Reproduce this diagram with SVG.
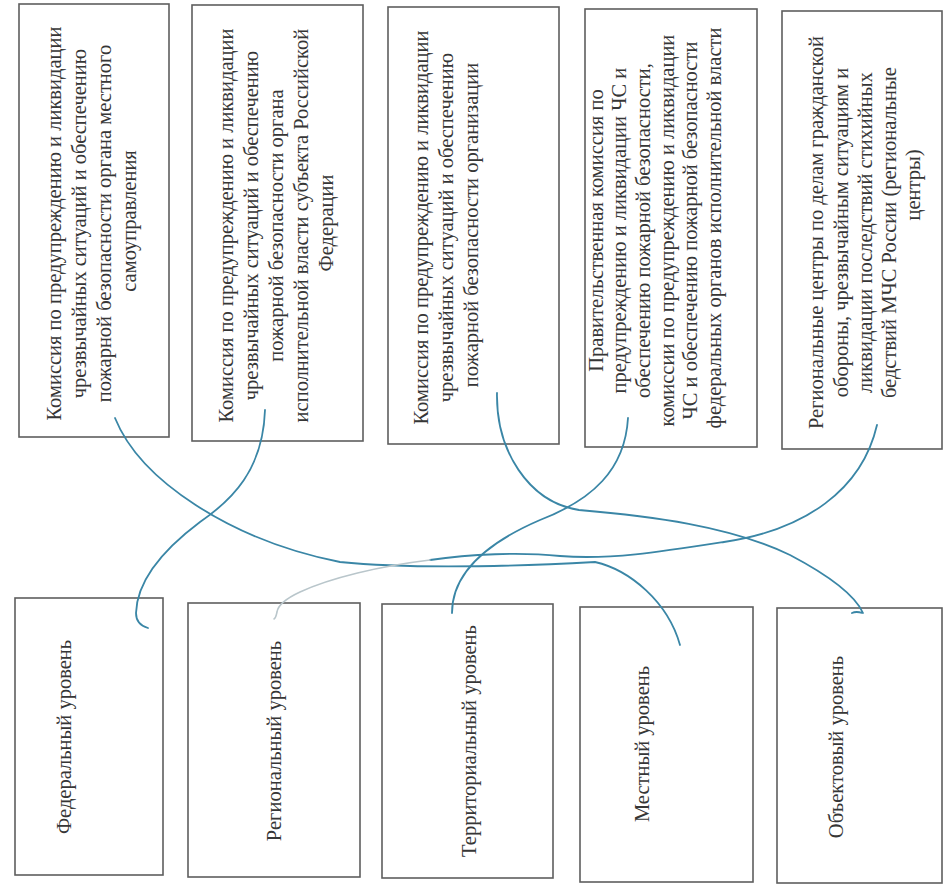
<svg xmlns="http://www.w3.org/2000/svg" width="946" height="886" viewBox="0 0 946 886">
<style>
.box{fill:#fff;stroke:#5e5e5e;stroke-width:1.6}
.t{font-family:"Liberation Serif","Times New Roman",serif;font-size:20.5px;fill:#363636}
.ink{fill:none;stroke:#3a86a6;stroke-width:1.8;stroke-linecap:round;stroke-linejoin:round}
.pale{fill:none;stroke:#b9c6cb;stroke-width:1.6;stroke-linecap:round}
</style>
<rect width="946" height="886" fill="#fff"/>
<g id="top1">
<rect class="box" x="19" y="4" width="150" height="433"/>
<text class="t" text-anchor="middle" transform="translate(0,221) rotate(-90)">
<tspan x="0" y="61">Комиссия по предупреждению и ликвидации</tspan>
<tspan x="0" y="86">чрезвычайных ситуаций и обеспечению</tspan>
<tspan x="0" y="111">пожарной безопасности органа местного</tspan>
<tspan x="0" y="136">самоуправления</tspan>
</text>
</g>
<g id="top2">
<rect class="box" x="192" y="5" width="171" height="436"/>
<text class="t" text-anchor="middle" transform="translate(0,223) rotate(-90)">
<tspan x="0" y="233">Комиссия по предупреждению и ликвидации</tspan>
<tspan x="0" y="258">чрезвычайных ситуаций и обеспечению</tspan>
<tspan x="0" y="283">пожарной безопасности органа</tspan>
<tspan x="0" y="308">исполнительной власти субъекта Российской</tspan>
<tspan x="0" y="333">Федерации</tspan>
</text>
</g>
<g id="top3">
<rect class="box" x="388" y="7" width="171" height="437"/>
<text class="t" text-anchor="middle" transform="translate(0,225) rotate(-90)">
<tspan x="0" y="428">Комиссия по предупреждению и ликвидации</tspan>
<tspan x="0" y="453">чрезвычайных ситуаций и обеспечению</tspan>
<tspan x="0" y="478">пожарной безопасности организации</tspan>
</text>
</g>
<g id="top4">
<rect class="box" x="585" y="9" width="172" height="438"/>
<text class="t" text-anchor="middle" transform="translate(0,228) rotate(-90)">
<tspan x="0" y="603">Правительственная комиссия по</tspan>
<tspan x="0" y="626">предупреждению и ликвидации ЧС и</tspan>
<tspan x="0" y="650">обеспечению пожарной безопасности,</tspan>
<tspan x="0" y="674">комиссии по предупреждению и ликвидации</tspan>
<tspan x="0" y="697">ЧС и обеспечению пожарной безопасности</tspan>
<tspan x="0" y="721">федеральных органов исполнительной власти</tspan>
</text>
</g>
<g id="top5">
<rect class="box" x="782" y="11" width="160" height="438"/>
<text class="t" text-anchor="middle" transform="translate(0,230) rotate(-90)">
<tspan x="0" y="823">Региональные центры по делам гражданской</tspan>
<tspan x="0" y="848">обороны, чрезвычайным ситуациям и</tspan>
<tspan x="0" y="872">ликвидации последствий стихийных</tspan>
<tspan x="0" y="896">бедствий МЧС России (региональные</tspan>
<tspan x="45" y="920">центры)</tspan>
</text>
</g>
<g id="level1">
<rect class="box" x="15" y="598" width="148" height="277"/>
<text class="t" text-anchor="middle" transform="translate(71,737) rotate(-90)">Федеральный уровень</text>
</g>
<g id="level2">
<rect class="box" x="188" y="603" width="172" height="274"/>
<text class="t" text-anchor="middle" transform="translate(281,741) rotate(-90)">Региональный уровень</text>
</g>
<g id="level3">
<rect class="box" x="382" y="604" width="171" height="274"/>
<text class="t" text-anchor="middle" transform="translate(476,741) rotate(-90)">Территориальный уровень</text>
</g>
<g id="level4">
<rect class="box" x="580" y="607" width="173" height="275"/>
<text class="t" text-anchor="middle" transform="translate(649,744) rotate(-90)">Местный уровень</text>
</g>
<g id="level5">
<rect class="box" x="777" y="608" width="165" height="275"/>
<text class="t" text-anchor="middle" transform="translate(843,747) rotate(-90)">Объектовый уровень</text>
</g>
<g id="connectors">
<path class="ink" stroke="#4a8aa3" d="M115,418 C140,480 230,540 340,562 C420,570 520,566 595,562 C630,570 668,602 680,645"/>
<path class="ink" d="M265,410 C263,470 232,500 200,522 C160,552 137,582 136,613 C136,622 141,626 148,628"/>
<path class="ink" stroke="#2f7aa0" d="M497,393 C496,450 528,502 579,510 C650,516 730,526 790,555 C828,575 855,595 863,613 C859,612 856,611 852,613"/>
<path class="ink" d="M628,418 C625,470 592,500 540,520 C482,545 452,575 452,613"/>
<path class="ink" stroke="#4a8aa3" d="M877,425 C862,490 805,530 724,542 C660,552 610,560 560,556 C520,552 470,554 430,560"/>
<path class="pale" d="M430,560 C380,566 330,578 300,592 C285,599 278,605 277,612 C276,616 276,618 274,619"/>
</g>
</svg>
